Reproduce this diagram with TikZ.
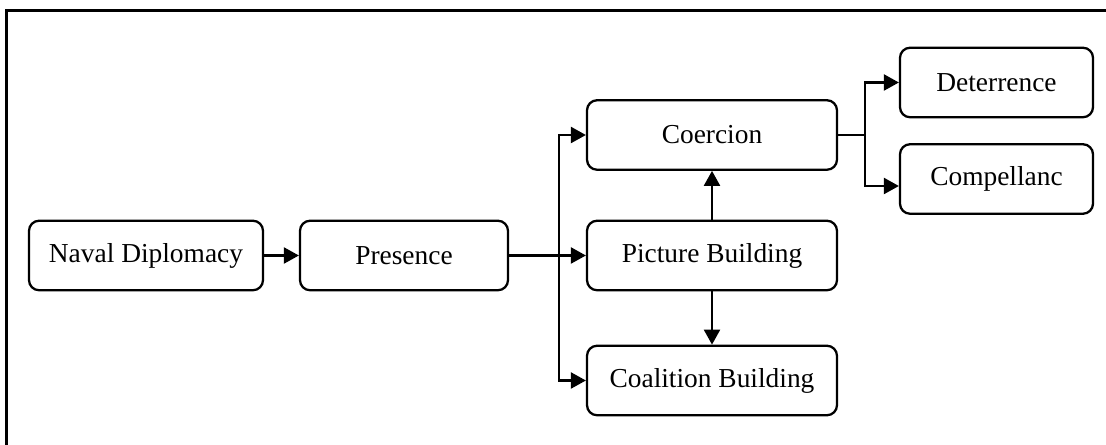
\documentclass[tikz,border=0pt]{standalone}
\usepackage{fontspec}
\setmainfont{Liberation Serif}
\usetikzlibrary{arrows.meta}
\newcommand\pxunit{0.02cm}

\begin{document}
\begin{tikzpicture}[
x=\pxunit,y=-\pxunit,
box/.style={draw,line width=1.3pt,rounded corners=0.2cm,inner sep=0pt,minimum height=1.39cm,font=\fontsize{15.6}{18}\selectfont},
arr/.style={line width=1.3pt,-{Triangle[length=0.3cm,width=0.32cm]}},
link/.style={line width=1.3pt}
]
\useasboundingbox (0,0) rectangle (1106,445);
% outer frame, only top and left edge are on the page
\draw[line width=1.6pt] (6.5,10.5) rectangle (1130,470);

\node[box,minimum width=4.68cm] (naval) at (146,255.5) {Naval Diplomacy};
\node[box,minimum width=4.16cm] (presence) at (404,255.5) {Presence};

\node[box,minimum width=5cm] (coercion) at (712,135) {Coercion};
\node[box,minimum width=5cm] (picture) at (712,255.5) {Picture Building};
\node[box,minimum width=5cm] (coalition) at (712,380.5) {Coalition Building};

\node[box,minimum width=3.86cm] (deter) at (996.5,82.5) {Deterrence};
\node[box,minimum width=3.86cm] (compel) at (996.5,179) {Compellanc};

\coordinate (split) at (559,0);
\coordinate (fork) at (865,0);

\draw[arr] (naval) -- (presence);
\draw[arr] (presence) -- (picture);
\draw[arr] (split |- presence.east) |- (coercion.west);
\draw[arr] (split |- presence.east) |- (coalition.west);

\draw[arr] (picture) -- (coercion);
\draw[arr] (picture) -- (coalition);

\draw[link] (coercion.east) -- (fork |- coercion.east);
\draw[arr] (fork |- coercion.east) |- (deter.west);
\draw[arr] (fork |- coercion.east) |- ([yshift=-0.14cm]compel.west);

\end{tikzpicture}
\end{document}
